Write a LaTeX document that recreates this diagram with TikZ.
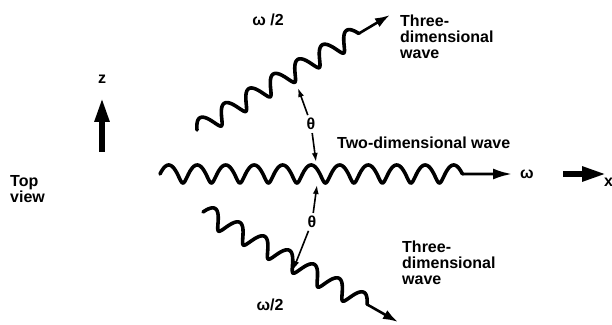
\documentclass[tikz,border=0pt]{standalone}
\usepackage{fontspec}
\setmainfont{Liberation Sans}
\usetikzlibrary{arrows.meta,positioning,calc}

% wavy line: start, angle, number of periods, end name
\newcommand{\wavyline}[4]{%
  \draw[wave, shift={(#1)}, rotate=#2]
    plot[domain=-90:#3*360-90, samples=360] ({28.5/360*(\x+90+20*(sin(\x)+1))}, {9*cos(\x)})
    coordinate (#4);
}

\begin{document}
\begin{tikzpicture}[
x=1pt, y=1pt,
lbl/.style={font=\fontsize{16}{16}\selectfont\bfseries, inner sep=0pt, align=left},
wave/.style={line width=3.6pt, line join=round, line cap=round},
wavetip/.style={line width=2.6pt, -{Latex[length=15pt,width=10pt]}},
angarrow/.style={-{Latex[length=9pt,width=6pt]}, line width=1.6pt, shorten <=3pt},
axis/.style={line width=5.5pt, -{Triangle[length=24pt,width=14pt]}}
]
\useasboundingbox (0,0) rectangle (612,324);
% waves
\coordinate (hs) at (160,150);
\coordinate (ht) at (512,150);
\coordinate (us) at (197,194);
\coordinate (ut) at (390,309);
\coordinate (ls) at (203,112);
\coordinate (lt) at (398,2);
\wavyline{hs}{0}{10.5}{he}
\wavyline{us}{30.8}{6.5}{ue}
\wavyline{ls}{-29.4}{6.5}{le}
\draw[wavetip, -{Latex[length=19pt,width=11pt]}] (he) -- (ht);
\draw[wavetip] (ue) -- (ut);
\draw[wavetip] (le) -- (lt);
% angle marks
\node[lbl] (th1) at (311,200) {θ};
\coordinate (th1u) at (298,236);
\coordinate (th1d) at (316,162);
\draw[angarrow] (th1) -- (th1u);
\draw[angarrow] (th1) -- (th1d);
\node[lbl] (th2) at (312,102) {θ};
\coordinate (th2u) at (317,139);
\coordinate (th2d) at (293,54);
\draw[angarrow] (th2) -- (th2u);
\draw[angarrow] (th2) -- (th2d);
% axes
\coordinate (zb) at (102,172);
\coordinate (zt) at (102,226);
\draw[axis] (zb) -- (zt);
\node[lbl, above=14pt of zt] (zlab) {z};
\coordinate (xb) at (563,150);
\coordinate (xt) at (606,150);
\draw[axis] (xb) -- (xt);
\node[lbl, below right=4pt and -2pt of xt] (xlab) {x};
% labels
\node[lbl, anchor=west] (top) at (10,135) {Top\\view};
\node[lbl] (wup) at (268,304) {ω /2};
\node[lbl] (wlow) at (270,19) {ω/2};
\node[lbl, right=8pt of ht] (wmain) {ω};
\node[lbl, anchor=west] (two) at (337,181) {Two-dimensional wave};
\node[lbl, anchor=west] (up3) at (400,287) {Three-\\dimensional\\wave};
\node[lbl, anchor=west] (low3) at (402,61) {Three-\\dimensional\\wave};
\end{tikzpicture}
\end{document}
